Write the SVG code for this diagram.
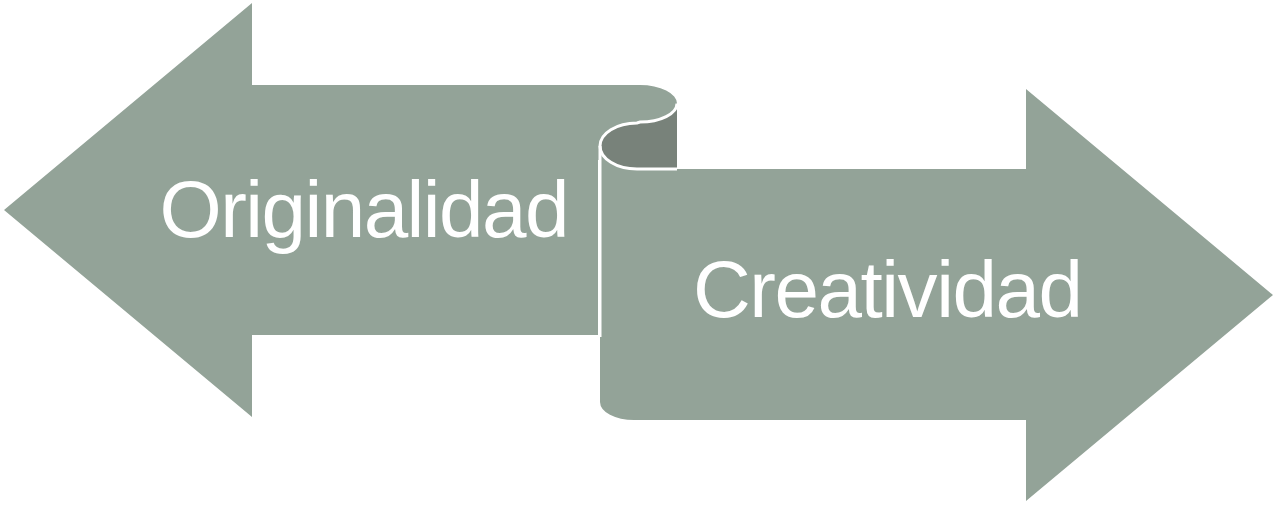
<svg xmlns="http://www.w3.org/2000/svg" width="1273" height="505" viewBox="0 0 1273 505">
<style>
.shape{fill:#93A398}
.dark{fill:#78827A}
.txt{fill:#FFFFFF;font-family:"Liberation Sans",Arial,sans-serif;font-size:80px;text-anchor:middle}
.edge{fill:none;stroke:#FFFFFF;stroke-width:3}
</style>
<rect width="1273" height="505" fill="#FFFFFF"/>
<g id="originalidad">
<path class="shape" d="M4,210 L252,3 L252,85 L640,85 A37,18.5 0 0 1 640,122 L640,160 L598,160 L598,335 L252,335 L252,417 Z"/>
<text class="txt" x="364.5" y="237" textLength="410" lengthAdjust="spacing">Originalidad</text>
</g>
<g id="roll-inner">
<path class="dark" d="M640,122 A37,18.5 0 0 0 677,103.5 L677,169 L637,169 A37,23 0 0 1 637,123 Z"/>
</g>
<g id="creatividad">
<path class="shape" d="M600,146 L600,402 A34,18 0 0 0 634,420 L1026,420 L1026,501 L1273,295 L1026,89 L1026,169 L637,169 A37,23 0 0 1 600,146 Z"/>
<text class="txt" x="888" y="317" textLength="390" lengthAdjust="spacing">Creatividad</text>
</g>
<g id="connectors">
<path class="edge" d="M677,103.5 A37,18.5 0 0 1 640,122 L637,123 A37,23 0 0 0 600,146 L600,337"/>
<path class="edge" d="M677,169 L637,169 A37,23 0 0 1 600,146"/>
</g>
</svg>
